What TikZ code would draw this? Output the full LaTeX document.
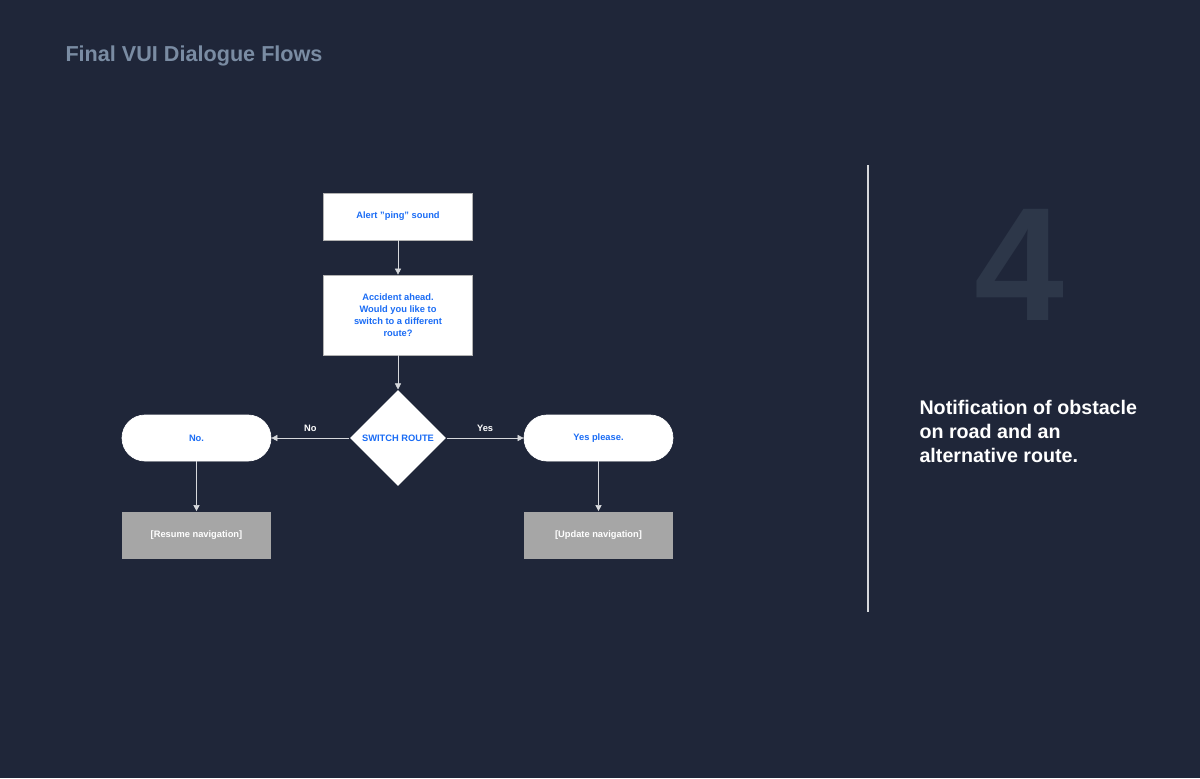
\documentclass[tikz,border=0pt]{standalone}
\usepackage{fontspec}
\setmainfont{Liberation Sans}
\usetikzlibrary{arrows.meta,shapes.geometric,positioning}
\definecolor{bgnavy}{HTML}{1F2639}
\definecolor{titlegray}{HTML}{7A8CA3}
\definecolor{flowblue}{HTML}{1A6CF5}
\definecolor{actiongray}{HTML}{A6A6A6}
\definecolor{bignum}{HTML}{2D3749}
\definecolor{linegray}{HTML}{D6D8DC}

\begin{document}
\begin{tikzpicture}[
        x = 0.02cm, y = -0.02cm, % one unit = one pixel, y down
        > = {Triangle[length=3.5pt,width=3.5pt]}, % arrow head style
        semithick,
        font = \bfseries
    ]

    \tikzstyle{prompt}=[
        draw = gray!60,
        thin,
        fill = white,
        text = flowblue,
        font = \fontsize{5.3}{6.9}\selectfont\bfseries,
        align = center,
        minimum width = 2.98cm
    ]
    \tikzstyle{reply}=[prompt, draw = white, rounded corners = 0.46cm, minimum height = 0.92cm]
    \tikzstyle{action}=[prompt, draw = none, fill = actiongray, text = white, minimum height = 0.94cm]
    \tikzstyle{flow}=[->, linegray, thin]
    \tikzstyle{choice}=[text = white, font = \fontsize{5.3}{7}\selectfont\bfseries, above]

    % background
    \fill[bgnavy] (0,0) rectangle (1200,778);
    \useasboundingbox (0,0) rectangle (1200,778);

    \node[anchor=west, inner sep=0pt, text=titlegray, font=\fontsize{12.3}{14}\selectfont\bfseries] (title) at (65,56) {Final VUI Dialogue Flows};

    % flow
    \node[prompt, minimum height = 0.94cm] (alert) at (398,216.5) {Alert "ping" sound};
    \node[prompt, minimum height = 1.6cm] (ask) at (398,315) {Accident ahead.\\Would you like to\\switch to a different\\route?};
    \node[diamond, fill = white, minimum width = 1.92cm, minimum height = 1.92cm, inner sep = 0pt,
          label = {[text = flowblue, font = \fontsize{5.3}{7}\selectfont\bfseries]center:SWITCH ROUTE}] (switch) at (398,438) {};
    \node[reply] (no) at (196.5,438) {No.};
    \node[reply] (yes) at (598.5,438) {Yes please.};
    \node[action] (resume) at (196.5,535) {[Resume navigation]};
    \node[action] (update) at (598.5,535) {[Update navigation]};

    \draw[flow] (alert) -- (ask);
    \draw[flow] (ask) -- (switch);
    \draw[flow] (switch) -- node[choice] {No} (no);
    \draw[flow] (switch) -- node[choice] {Yes} (yes);
    \draw[flow] (no) -- (resume);
    \draw[flow] (yes) -- (update);

    % right panel
    \coordinate (divtop) at (868,165);
    \coordinate (divbot) at (868,612);
    \draw[linegray, thick] (divtop) -- (divbot);

    \node[text=bignum, font=\fontsize{92}{92}\selectfont\bfseries] (step) at (1019,265) {4};
    \node[anchor=north west, inner sep=0pt, text=white, align=left, font=\fontsize{11.2}{13.7}\selectfont\bfseries] (caption) at (919,400)
        {Notification of obstacle\\on road and an\\alternative route.};
\end{tikzpicture}
\end{document}
